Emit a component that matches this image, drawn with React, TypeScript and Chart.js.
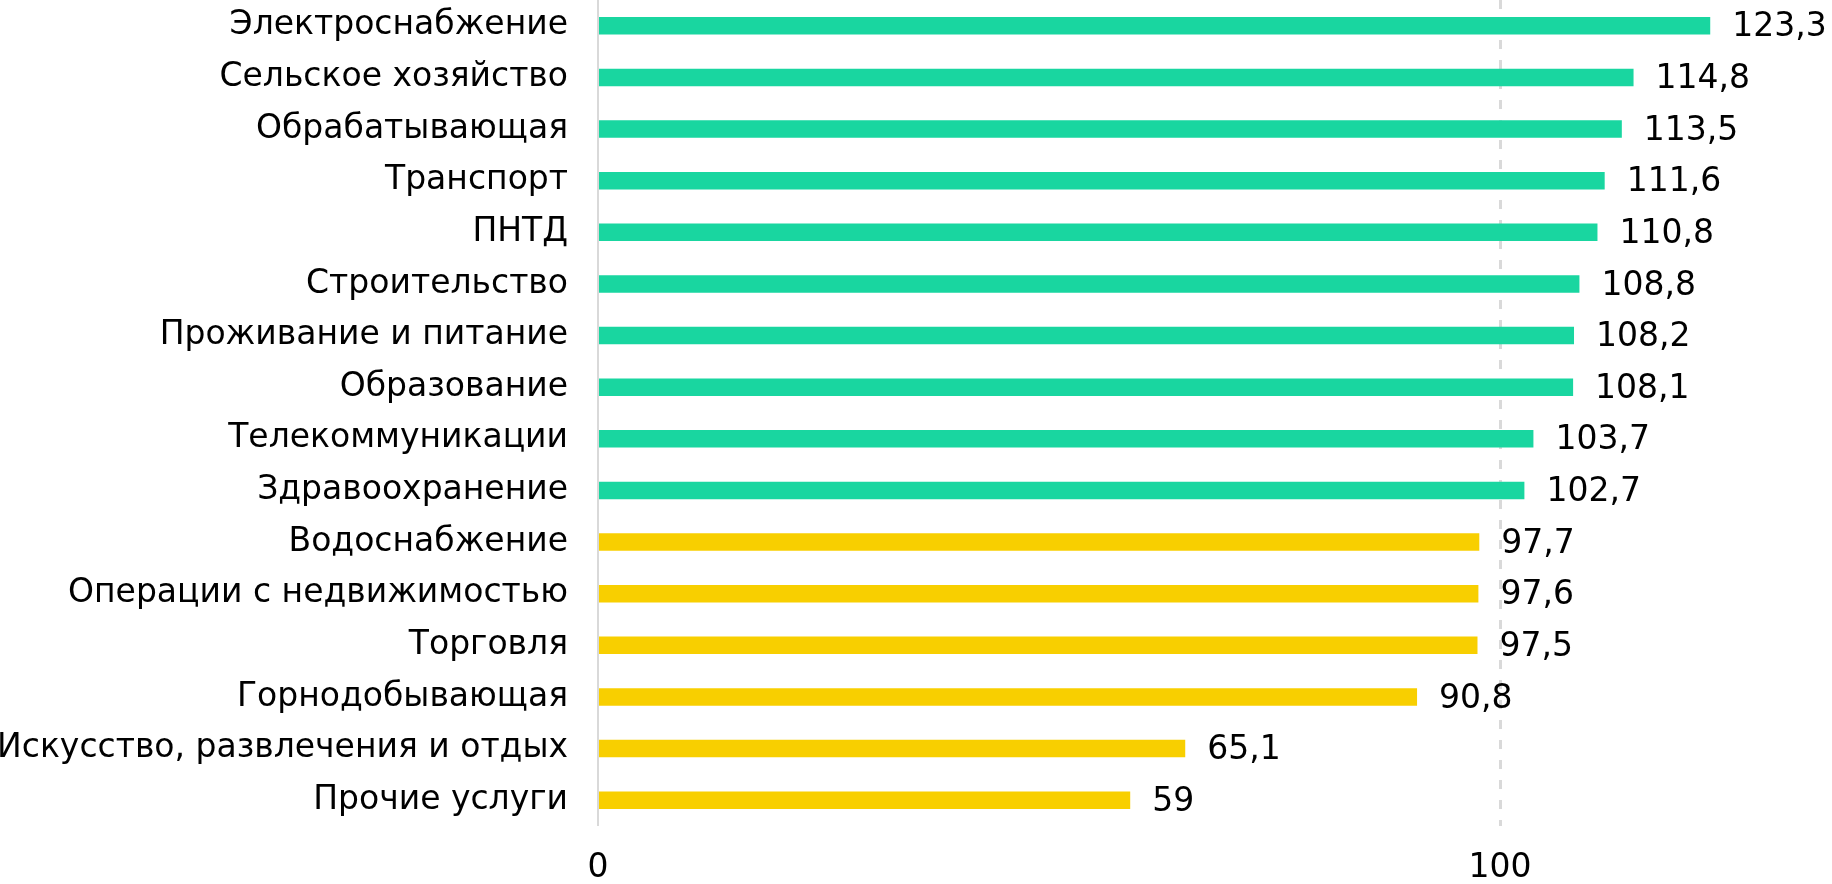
import React, { useEffect, useRef } from "react";
import { Chart, registerables } from "chart.js";

Chart.register(...registerables);

const categories = [
  "Электроснабжение",
  "Сельское хозяйство",
  "Обрабатывающая",
  "Транспорт",
  "ПНТД",
  "Строительство",
  "Проживание и питание",
  "Образование",
  "Телекоммуникации",
  "Здравоохранение",
  "Водоснабжение",
  "Операции с недвижимостью",
  "Торговля",
  "Горнодобывающая",
  "Искусство, развлечения и отдых",
  "Прочие услуги",
];

const values = [123.3, 114.8, 113.5, 111.6, 110.8, 108.8, 108.2, 108.1, 103.7, 102.7, 97.7, 97.6, 97.5, 90.8, 65.1, 59];

const xTicks = [0, 100];

const GREEN = "#19D6A0";
const YELLOW = "#F8CF00";
const FONT = "'DejaVu Sans', Verdana, sans-serif";
const FONT_SIZE = 33;

const valueLabels = {
  id: "valueLabels",
  afterDatasetsDraw(chart: any) {
    const { ctx } = chart;
    const meta = chart.getDatasetMeta(0);
    ctx.save();
    ctx.font = `${FONT_SIZE}px ${FONT}`;
    ctx.fillStyle = "#000";
    ctx.textAlign = "left";
    ctx.textBaseline = "middle";
    meta.data.forEach((bar: any, i: number) => {
      const v = values[i];
      const txt = String(v).replace(".", ",");
      ctx.fillText(txt, bar.x + 22, bar.y + 2);
    });
    ctx.restore();
  },
};

export default function App() {
  const ref = useRef<HTMLCanvasElement>(null);
  useEffect(() => {
    document.body.style.margin = "0";
    const chart = new Chart(ref.current!, {
      type: "bar",
      data: {
        labels: categories,
        datasets: [
          {
            data: values,
            backgroundColor: values.map((v) => (v >= 100 ? GREEN : YELLOW)),
            barPercentage: 0.34,
            categoryPercentage: 1,
          },
        ],
      },
      options: {
        indexAxis: "y",
        animation: false,
        responsive: false,
        layout: { padding: 0 },
        plugins: { legend: { display: false }, tooltip: { enabled: false } },
        scales: {
          x: {
            min: 0,
            max: 136.8,
            afterBuildTicks: (scale: any) => {
              scale.ticks = xTicks.map((v) => ({ value: v }));
            },
            afterFit: (scale: any) => {
              scale.height = 58;
              scale.paddingLeft = 0;
              scale.paddingRight = 0;
            },
            grid: {
              drawTicks: false,
              color: "#d9d9d9",
              lineWidth: (c: any) => (c.tick && c.tick.value === 0 ? 2 : 3),
            },
            border: {
              display: false,
              dash: (c: any) => (c.tick && c.tick.value === 0 ? [] : [9, 11]),
            },
            ticks: {
              padding: 23,
              color: "#000",
              font: { family: FONT, size: FONT_SIZE },
              maxRotation: 0,
            },
          },
          y: {
            afterFit: (scale: any) => {
              scale.width = 598;
              scale.paddingTop = 0;
              scale.paddingBottom = 0;
            },
            grid: { display: false, drawTicks: false },
            border: { display: false },
            ticks: {
              padding: 30,
              color: "#000",
              font: { family: FONT, size: FONT_SIZE },
            },
          },
        },
      },
      plugins: [valueLabels],
    });
    return () => chart.destroy();
  }, []);
  return <canvas ref={ref} width={1832} height={884} style={{ display: "block", width: 1832, height: 884 }} />;
}
